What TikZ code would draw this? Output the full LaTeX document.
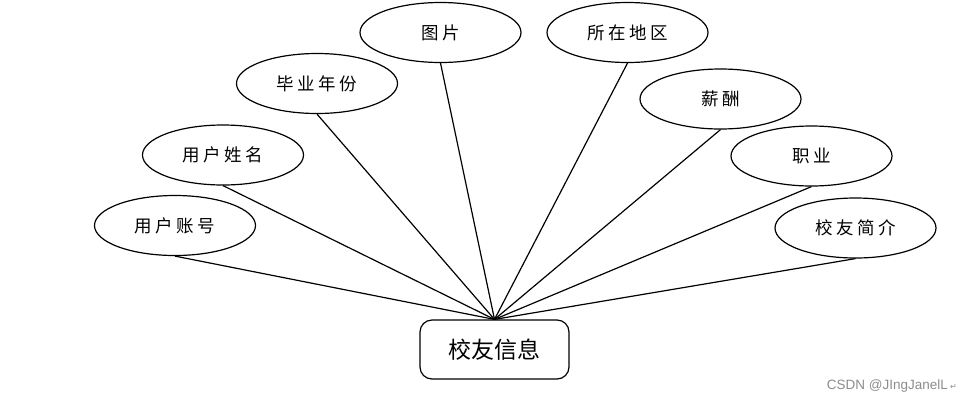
\documentclass[tikz,border=0pt]{standalone}
\usepackage{fontspec}
\newfontfamily\cjk{Noto Sans CJK SC}
\newfontfamily\cjksp[LetterSpace=20]{Noto Sans CJK SC}
\newfontfamily\wm{Liberation Sans}
\newfontfamily\dejavu{DejaVu Sans}
\usetikzlibrary{shapes.geometric}
\begin{document}
\begin{tikzpicture}[x=1pt,y=-1pt,
  attr/.style={draw=black, line width=1.2pt, ellipse, minimum width=161pt, minimum height=60pt, inner sep=0pt, font=\cjksp\fontsize{17.5}{19}\selectfont},
  entity/.style={draw=black, line width=1.2pt, rounded corners=12pt, minimum width=149pt, minimum height=59pt, inner sep=0pt, font=\cjk\fontsize{23}{25}\selectfont},
  link/.style={draw=black, line width=1.2pt}]
\useasboundingbox (0,0) rectangle (963,405);
\node[entity] (e) at (494.5,349.5) {校友信息};
\node[attr] (a1) at (175,225.5) {用户账号};
\node[attr] (a2) at (223,155) {用户姓名};
\node[attr] (a3) at (317,83.5) {毕业年份};
\node[attr] (a4) at (440.5,32.5) {图片};
\node[attr] (a5) at (627.5,32.5) {所在地区};
\node[attr] (a6) at (720.5,99) {薪酬};
\node[attr] (a7) at (811.5,156) {职业};
\node[attr] (a8) at (855.5,228) {校友简介};
\foreach \n in {a1,a2,a3,a4,a5,a6,a7,a8}
  \draw[link] (\n.south) -- (e.north);
\node[anchor=east, text=black!45, font=\wm\fontsize{13.5}{15}\selectfont, inner sep=0pt] (wm) at (957,386) {CSDN @JIngJanelL\,{\dejavu\fontsize{8}{9}\selectfont ↵}};
\end{tikzpicture}
\end{document}
